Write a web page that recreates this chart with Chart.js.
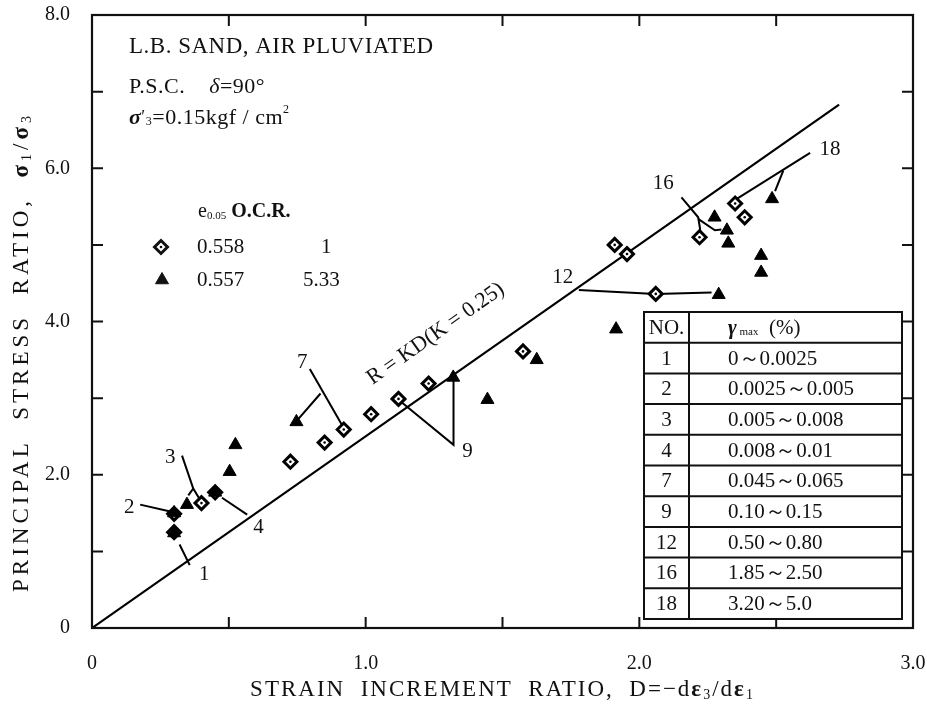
<!DOCTYPE html>
<html>
<head>
<meta charset="utf-8">
<script src="https://cdn.jsdelivr.net/npm/chart.js@4.4.0/dist/chart.umd.min.js"></script>
<style>
  html, body { margin: 0; padding: 0; background: #fff; }
  #contenedor { width: 927px; height: 709px; }
</style>
</head>
<body>
<div id="contenedor"><canvas id="chartRelacion" width="927" height="709"></canvas></div>
<script>
// Ensayos con O.C.R. = 1 (rombos)
const rombosD = [0.30, 0.30, 0.40, 0.45, 0.725, 0.85, 0.92, 1.02, 1.12, 1.23, 1.575, 1.91, 1.955, 2.06, 2.22, 2.35, 2.385];
const rombosR = [1.25, 1.49, 1.63, 1.77, 2.17, 2.42, 2.59, 2.79, 2.99, 3.19, 3.61, 5.00, 4.88, 4.36, 5.10, 5.54, 5.36];

// Ensayos con O.C.R. = 5.33 (triangulos)
const triangD = [0.30, 0.30, 0.347, 0.45, 0.503, 0.524, 0.747, 1.32, 1.445, 1.625, 1.915, 2.275, 2.32, 2.325, 2.29, 2.445, 2.445, 2.485];
const triangR = [1.24, 1.50, 1.61, 1.77, 2.04, 2.39, 2.69, 3.27, 2.98, 3.50, 3.90, 5.36, 5.19, 5.02, 4.35, 4.86, 4.64, 5.60];

// Recta R = KD
const rectaD = [0, 2.73];
const rectaR = [0, 6.83];

// Tabla de deformaciones
const tablaNo = ['1', '2', '3', '4', '7', '9', '12', '16', '18'];
const tablaGamma = ['0～0.0025', '0.0025～0.005', '0.005～0.008', '0.008～0.01', '0.045～0.065', '0.10～0.15', '0.50～0.80', '1.85～2.50', '3.20～5.0'];

// Lineas de referencia (D, R) hacia cada grupo numerado
const guias = [
  [[0.320, 1.09], [0.357, 0.82]],
  [[0.176, 1.61], [0.286, 1.52]],
  [[0.329, 2.25], [0.370, 1.82], [0.392, 1.69]],
  [[0.370, 1.82], [0.352, 1.73]],
  [[0.567, 1.48], [0.475, 1.70]],
  [[0.796, 3.38], [0.915, 2.64]],
  [[0.835, 3.06], [0.752, 2.72]],
  [[1.130, 2.95], [1.321, 2.39], [1.321, 3.24]],
  [[1.779, 4.41], [2.059, 4.36], [2.264, 4.38]],
  [[2.154, 5.62], [2.215, 5.36], [2.221, 5.23], [2.224, 5.13]],
  [[2.215, 5.34], [2.276, 5.19], [2.300, 5.20]],
  [[2.624, 6.20], [2.356, 5.60]],
  [[2.526, 5.97], [2.496, 5.70]]
];
const guiasTexto = ['1', '2', '3', '4', '7', '9', '12', '16', '18'];
const guiasPos = [[0.41, 0.70], [0.136, 1.57], [0.286, 2.22], [0.608, 1.31], [0.768, 3.47], [1.372, 2.31], [1.72, 4.58], [2.087, 5.80], [2.697, 6.24]];

const SERIF = '"Liberation Serif", "DejaVu Serif", serif';
const fuente = (px, estilo) => (estilo ? estilo + ' ' : '') + px + 'px ' + SERIF;

function aPuntos(xs, ys) {
  return xs.map((x, i) => ({ x: x, y: ys[i] }));
}

// Escribe un texto compuesto por tramos [texto, fuente, desplazamientoY]
function escribirTramos(ctx, tramos, x, y, alinear) {
  let total = 0;
  tramos.forEach(t => { ctx.font = t[1]; total += ctx.measureText(t[0]).width; });
  let cx = alinear === 'center' ? x - total / 2 : x;
  ctx.textAlign = 'left';
  tramos.forEach(t => {
    ctx.font = t[1];
    ctx.fillText(t[0], cx, y + (t[2] || 0));
    cx += ctx.measureText(t[0]).width;
  });
}

const datasets = [
  {
    data: aPuntos(triangD, triangR),
    pointStyle: 'triangle', pointRadius: 7.5,
    backgroundColor: '#000', borderColor: '#000', borderWidth: 1
  },
  {
    data: aPuntos(rombosD, rombosR),
    pointStyle: 'circle', pointRadius: 1.3,
    backgroundColor: '#000', borderWidth: 0
  },
  {
    data: aPuntos(rombosD, rombosR),
    pointStyle: 'rectRot', pointRadius: 6.5,
    backgroundColor: '#fff', borderColor: '#000', borderWidth: 3
  },
  {
    data: aPuntos(rectaD, rectaR),
    showLine: true, pointRadius: 0, borderColor: '#000', borderWidth: 2.2
  }
];
guias.forEach(g => {
  datasets.push({
    data: g.map(p => ({ x: p[0], y: p[1] })),
    showLine: true, pointRadius: 0, borderColor: '#000', borderWidth: 2
  });
});

const anotaciones = {
  id: 'anotaciones',
  afterDraw(chart) {
    const ctx = chart.ctx;
    const a = chart.chartArea;
    const sx = chart.scales.x, sy = chart.scales.y;
    ctx.save();
    ctx.fillStyle = '#111';
    ctx.strokeStyle = '#111';

    // marco y marcas interiores
    ctx.lineWidth = 2.2;
    ctx.strokeRect(a.left, a.top, a.right - a.left, a.bottom - a.top);
    ctx.lineWidth = 2;
    ctx.beginPath();
    for (let v = 0.5; v < 3; v += 0.5) {
      const px = sx.getPixelForValue(v);
      ctx.moveTo(px, a.bottom); ctx.lineTo(px, a.bottom - 11);
      ctx.moveTo(px, a.top); ctx.lineTo(px, a.top + 11);
    }
    for (let v = 1; v < 8; v++) {
      const py = sy.getPixelForValue(v);
      ctx.moveTo(a.left, py); ctx.lineTo(a.left + 11, py);
      ctx.moveTo(a.right, py); ctx.lineTo(a.right - 11, py);
    }
    ctx.stroke();

    // numeros de las guias
    ctx.textBaseline = 'middle';
    ctx.textAlign = 'center';
    ctx.font = fuente(21);
    guiasTexto.forEach((t, i) => {
      ctx.fillText(t, sx.getPixelForValue(guiasPos[i][0]), sy.getPixelForValue(guiasPos[i][1]));
    });

    // etiqueta de la recta
    ctx.save();
    ctx.translate(sx.getPixelForValue(1.256), sy.getPixelForValue(3.84));
    const ang = Math.atan2(sy.getPixelForValue(rectaR[1]) - sy.getPixelForValue(0), sx.getPixelForValue(rectaD[1]) - sx.getPixelForValue(0));
    ctx.rotate(ang);
    ctx.font = fuente(22);
    ctx.fillText('R = KD(K = 0.25)', 0, 0);
    ctx.restore();

    // textos de cabecera
    ctx.textAlign = 'left';
    ctx.letterSpacing = '0.5px';
    escribirTramos(ctx, [['L.B. SAND, AIR PLUVIATED', fuente(23)]], 129, 47);
    escribirTramos(ctx, [['P.S.C.    ', fuente(22)], ['δ', fuente(22, 'italic')], ['=90°', fuente(22)]], 129, 87);
    escribirTramos(ctx, [['σ', fuente(22, 'italic bold')], ['′', fuente(18)], ['3', fuente(12), 4],
      ['=0.15kgf / cm', fuente(22)], ['2', fuente(12), -8]], 129, 118);
    ctx.letterSpacing = '0px';

    // leyenda
    escribirTramos(ctx, [['e', fuente(20)], ['0.05', fuente(11), 4], [' O.C.R.', fuente(20, 'bold')]], 198, 212);
    ctx.lineWidth = 3;
    ctx.fillStyle = '#fff';
    Chart.helpers.drawPoint(ctx, { pointStyle: 'rectRot', radius: 6.5, borderWidth: 3, rotation: 0 }, 161, 247);
    ctx.fillStyle = '#111';
    ctx.beginPath(); ctx.arc(161, 247, 1.3, 0, Math.PI * 2); ctx.fill();
    ctx.lineWidth = 1;
    Chart.helpers.drawPoint(ctx, { pointStyle: 'triangle', radius: 7.5, borderWidth: 1, rotation: 0 }, 162, 280);
    ctx.font = fuente(21);
    ctx.fillText('0.558', 197, 247);
    ctx.fillText('1', 321, 247);
    ctx.fillText('0.557', 197, 280);
    ctx.fillText('5.33', 303, 280);

    // tabla
    const tx = 644, ty = 312, tw = 258, col = 45, fila = 30.7;
    const filas = tablaNo.length + 1;
    ctx.fillStyle = '#fff';
    ctx.fillRect(tx, ty, tw, fila * filas);
    ctx.strokeStyle = '#111';
    ctx.lineWidth = 2;
    ctx.strokeRect(tx, ty, tw, fila * filas);
    ctx.beginPath();
    ctx.moveTo(tx + col, ty); ctx.lineTo(tx + col, ty + fila * filas);
    for (let i = 1; i < filas; i++) {
      ctx.moveTo(tx, ty + fila * i); ctx.lineTo(tx + tw, ty + fila * i);
    }
    ctx.stroke();
    ctx.fillStyle = '#111';
    ctx.font = fuente(21);
    ctx.textAlign = 'center';
    ctx.fillText('NO.', tx + col / 2, ty + fila / 2 + 1);
    escribirTramos(ctx, [['γ', fuente(21, 'italic bold')], [' max', fuente(11), 4], ['  (%)', fuente(21)]], tx + col + 39, ty + fila / 2 + 1);
    tablaNo.forEach((n, i) => {
      const yc = ty + fila * (i + 1.5) + 1;
      ctx.textAlign = 'center';
      ctx.font = fuente(21);
      ctx.fillText(n, tx + col / 2, yc);
      escribirTramos(ctx, [[tablaGamma[i], fuente(21)]], tx + col + 39, yc);
    });

    // titulos de los ejes
    ctx.letterSpacing = '2px';
    escribirTramos(ctx, [['STRAIN  INCREMENT  RATIO,  D=−d', fuente(23)], ['ε', fuente(23, 'bold')], ['3', fuente(14), 5],
      ['/d', fuente(23)], ['ε', fuente(23, 'bold')], ['1', fuente(14), 5]], (a.left + a.right) / 2, 690, 'center');
    ctx.letterSpacing = '4px';
    ctx.save();
    ctx.translate(22, 352);
    ctx.rotate(-Math.PI / 2);
    escribirTramos(ctx, [['PRINCIPAL  STRESS  RATIO,  ', fuente(23)], ['σ', fuente(23, 'bold')], ['1', fuente(14), 5],
      ['/', fuente(23)], ['σ', fuente(23, 'bold')], ['3', fuente(14), 5]], 0, 0, 'center');
    ctx.restore();
    ctx.letterSpacing = '0px';

    ctx.restore();
  }
};

new Chart(document.getElementById('chartRelacion'), {
  type: 'scatter',
  data: { datasets: datasets },
  options: {
    responsive: false,
    animation: false,
    devicePixelRatio: 1,
    layout: { padding: { top: 15, right: 14, bottom: 0, left: 0 } },
    plugins: { legend: { display: false }, tooltip: { enabled: false } },
    scales: {
      x: {
        type: 'linear', min: 0, max: 3,
        grid: { display: false }, border: { display: false },
        afterFit: s => { s.height = 81; s.paddingLeft = 0; s.paddingRight = 0; },
        ticks: {
          stepSize: 0.5, autoSkip: false, maxRotation: 0, padding: 16,
          color: '#111', font: { family: SERIF, size: 20 },
          callback: v => v === 0 ? '0' : (Number.isInteger(v) ? v.toFixed(1) : '')
        }
      },
      y: {
        type: 'linear', min: 0, max: 8,
        grid: { display: false }, border: { display: false },
        afterFit: s => { s.width = 92; s.paddingTop = 0; s.paddingBottom = 0; },
        ticks: {
          stepSize: 1, autoSkip: false, padding: 14,
          color: '#111', font: { family: SERIF, size: 20 },
          callback: v => v === 0 ? '0' : (v % 2 === 0 ? v.toFixed(1) : '')
        }
      }
    }
  },
  plugins: [anotaciones]
});
</script>
</body>
</html>
